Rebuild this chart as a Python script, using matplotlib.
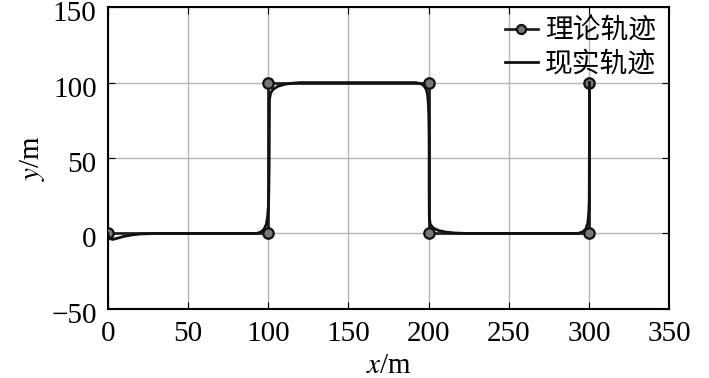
import numpy as np
import matplotlib
matplotlib.use("Agg")
from matplotlib import pyplot as plt
from matplotlib.transforms import ScaledTranslation

# theoretical path (waypoints)
theory_x = [0, 100, 100, 200, 200, 300, 300]
theory_y = [0, 0, 100, 100, 0, 0, 100]

real_x = [0, 0.5, 1.5, 3, 6, 10, 15, 20, 30, 60, 90, 93, 95.5, 97.5, 98.8, 99.6, 100.1, 100.4, 100.6,
          100.7, 100.8, 101.5, 103, 106, 110, 115, 120, 150, 185, 192, 195, 197, 198.5, 199.3,
          199.8, 200.1, 200.3, 200.3, 200.4, 201, 203, 206, 210, 216, 223, 260, 290, 293, 296,
          298, 299.2, 299.8, 300.1, 300.2, 300.2]
real_y = [0, -2, -3.5, -4, -3.2, -2, -1, -0.4, 0, 0, 0, 0, 1, 3, 6, 11, 18, 28, 45,
          70, 89, 93, 95.5, 97.5, 98.8, 99.6, 100, 100, 100, 100, 99.3, 98, 95.5, 92,
          86, 78, 60, 30, 11, 6, 3.5, 2, 1, 0.3, 0, 0, 0, 0, 1,
          3, 7, 14, 22, 60, 100]

plt.rcParams['font.family'] = ['Liberation Serif', 'DejaVu Serif']
plt.rcParams['mathtext.fontset'] = 'stix'

fig = plt.figure(figsize=(7.09, 3.78), dpi=100)
ax = fig.add_axes([0.152, 0.183, 0.792, 0.798])

ax.plot(theory_x, theory_y, color='#222222', lw=2, marker='o', ms=7.5,
        mfc='#777777', mec='#111111', mew=1.6, label='理论轨迹', zorder=3)
ax.plot(real_x, real_y, color='#111111', lw=2, label='现实轨迹', zorder=4)

ax.set_xlim(0, 350)
ax.set_ylim(-50, 150)
ax.set_xticks(np.arange(0, 351, 50))
ax.set_yticks(np.arange(-50, 151, 50))
ax.set_yticklabels(['\u221250', '0', '50', '100', '150'])
ax.grid(True, color='#b5b5b5', lw=1)
ax.set_axisbelow(True)
ax.tick_params(direction='in', top=True, right=True, length=5, labelsize=21)
ax.tick_params(axis='x', pad=9)
ax.tick_params(axis='y', pad=8)
# y tick labels sit a little below their grid lines in the original
off = ScaledTranslation(0, -4 / 100, fig.dpi_scale_trans)
for lab in ax.get_yticklabels():
    lab.set_transform(lab.get_transform() + off)
for s in ax.spines.values():
    s.set_linewidth(1.5)

ax.set_xlabel(r'$x$/m', fontsize=21, labelpad=4)
ax.set_ylabel(r'$y$/m', fontsize=21, labelpad=3)

leg = ax.legend(loc='upper right', bbox_to_anchor=(0.976, 0.972), frameon=False,
                prop={'family': 'Noto Sans CJK SC', 'size': 20},
                handlelength=1.2, handletextpad=0.25, borderaxespad=0, labelspacing=0.12,
                borderpad=0)
for h in leg.legend_handles:
    h.set_markersize(6.5)

fig.savefig('out.png', dpi=100)
